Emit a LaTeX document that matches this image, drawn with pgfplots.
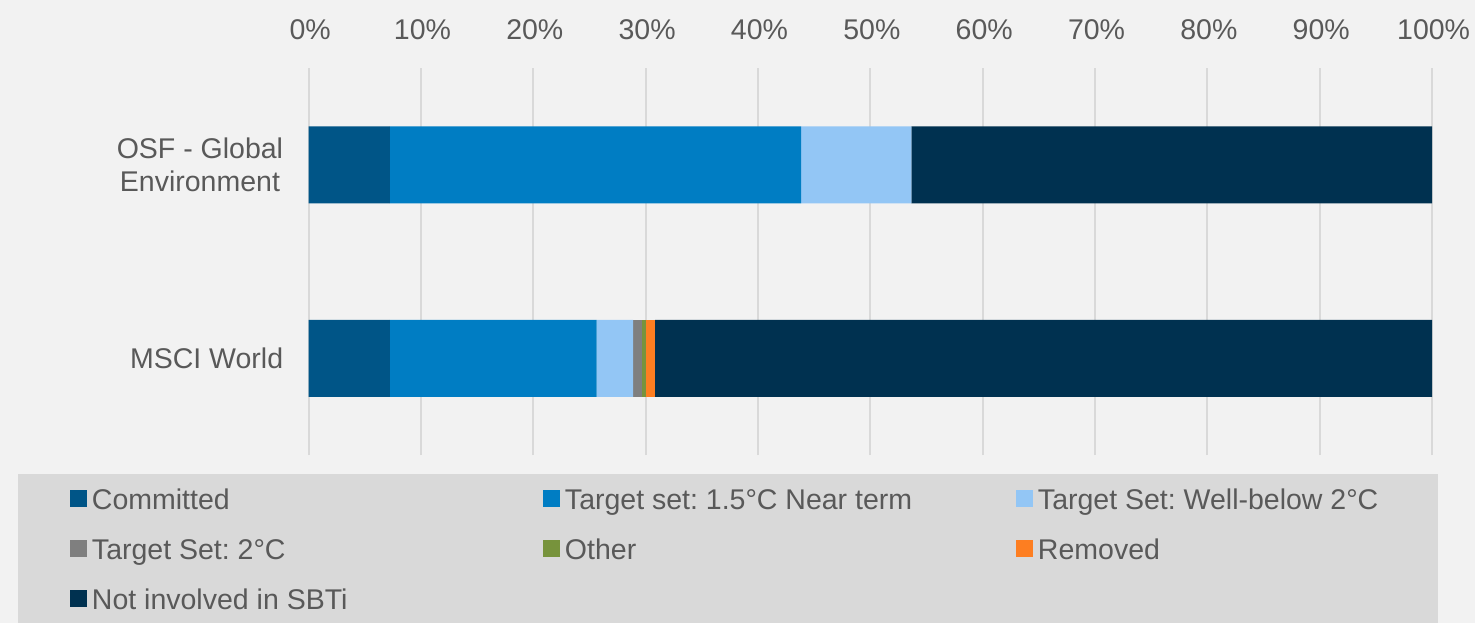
\documentclass[border=0pt]{standalone}
\usepackage{pgfplots}
\pgfplotsset{compat=1.18}
\usepackage{fontspec}
\setmainfont{Liberation Sans}
\frenchspacing
\definecolor{bg}{HTML}{F2F2F2}
\definecolor{legbg}{HTML}{D9D9D9}
\definecolor{gridc}{HTML}{D9D9D9}
\definecolor{txt}{HTML}{595959}
\definecolor{cCommit}{HTML}{005587}
\definecolor{cNear}{HTML}{007DC3}
\definecolor{cWell}{HTML}{93C6F5}
\definecolor{cTwo}{HTML}{7F7F7F}
\definecolor{cOther}{HTML}{77933C}
\definecolor{cRem}{HTML}{FD7E21}
\definecolor{cNot}{HTML}{003150}
\newcommand{\legtxt}[1]{\makebox[225.5pt][l]{#1}}
\pgfplotsset{
  sq/.style={fill=#1, draw=none,
    legend image code/.code={\fill[#1] (0pt,-4.25pt) rectangle (8.5pt,4.25pt);}}
}
\pgfplotstableread{
cat commit near well two other rem not
0   7.25  18.40 3.25 0.80 0.35 0.80 69.15
1   7.25  36.60 9.80 0.00 0.00 0.00 46.35
}\data
\begin{document}
\begin{tikzpicture}[x=1pt,y=1pt]
\fill[bg] (0,0) rectangle (737.5,311.5);
\fill[legbg] (9,0) rectangle (719,74.5);
\begin{axis}[
  at={(154.25pt,84pt)}, anchor=south west,
  scale only axis, width=561.75pt, height=193.5pt,
  xbar stacked, bar width=38.5pt,
  xmin=0, xmax=100, ymin=-0.5, ymax=1.5,
  axis line style={draw=none},
  major tick length=0pt,
  xmajorgrids, ymajorgrids=false,
  grid style={color=gridc, line width=1pt},
  xtick={0,10,...,100},
  xticklabels={0\%,10\%,20\%,30\%,40\%,50\%,60\%,70\%,80\%,90\%,100\%},
  xticklabel pos=upper,
  xticklabel style={inner sep=0pt, yshift=14pt, xshift=0.8pt},
  ytick={0,1},
  yticklabels={MSCI World,{OSF - Global\\Environment}},
  yticklabel style={align=center, inner sep=0pt, xshift=-12.5pt},
  tick label style={font=\fontsize{14.25}{16.5}\selectfont, text=txt},
  legend columns=3,
  legend cell align=left,
  legend style={at={(-0.2123,-0.0765)}, anchor=north west,
    draw=none, fill=none, inner sep=0pt, outer sep=0pt,
    font=\fontsize{14.25}{16.5}\selectfont, text=txt,
    row sep=10.8pt,
    nodes={inner sep=0pt, text height=12.2pt, text depth=2pt},
    /tikz/every odd column/.append style={column sep=2.5pt}},
]
\addplot[sq=cCommit] table[x=commit, y=cat] {\data};
\addplot[sq=cNear] table[x=near, y=cat] {\data};
\addplot[sq=cWell] table[x=well, y=cat] {\data};
\addplot[sq=cTwo] table[x=two, y=cat] {\data};
\addplot[sq=cOther] table[x=other, y=cat] {\data};
\addplot[sq=cRem] table[x=rem, y=cat] {\data};
\addplot[sq=cNot] table[x=not, y=cat] {\data};
\legend{\legtxt{Committed},\legtxt{Target set: 1.5°C Near term},\legtxt{Target Set: Well-below 2°C},\legtxt{Target Set: 2°C},\legtxt{Other},\legtxt{Removed},\legtxt{Not involved in SBTi}}
\end{axis}
\pgfresetboundingbox
\path (0,0) rectangle (737.5,311.5);
\end{tikzpicture}
\end{document}
